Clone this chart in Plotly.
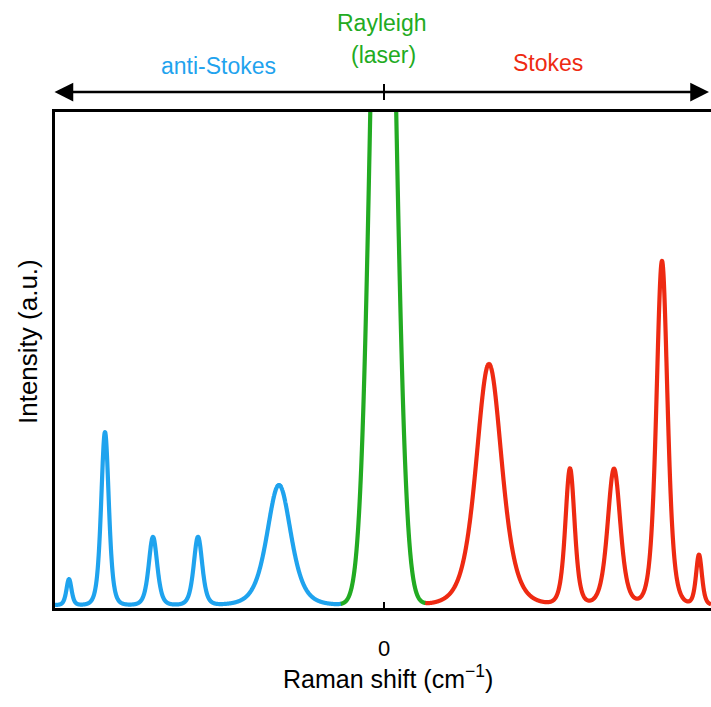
import numpy as np
import plotly.graph_objects as go

# ---- data ----
# anti-Stokes peaks (Raman shift cm-1, intensity a.u., FWHM cm-1)
anti_pos = [-1260, -1116, -924, -744, -420]
anti_h = [0.053, 0.353, 0.139, 0.139, 0.245]
anti_w = [24, 36, 40, 40, 112]
# Rayleigh (laser) line
ray_pos = [-3]
ray_h = [1.98]
ray_w = [105]
# Stokes peaks
stokes_pos = [420, 744, 920, 1112, 1260]
stokes_h = [0.492, 0.278, 0.278, 0.702, 0.102]
stokes_w = [120, 44, 60, 52, 28]

x_range = [-1316, 1308]
y_range = [-0.006, 1.006]
split_lo, split_hi = -172, 164  # colour changes blue->green->red
tick_vals = [0]
tick_text = ["0"]

BLUE = "#1fa3ee"
GREEN = "#22ab22"
RED = "#ee2a12"


def pearson7(x, c, h, w, m=3.0):
    return h / (1 + (2 ** (1 / m) - 1) * (2 * (x - c) / w) ** 2) ** m


def gauss(x, c, h, w):
    s = w / 2.3548
    return h * np.exp(-((x - c) ** 2) / (2 * s * s))


x = np.linspace(x_range[0], x_range[1], 2600)
y = np.zeros_like(x)
for c, h, w in zip(anti_pos + stokes_pos, anti_h + stokes_h, anti_w + stokes_w):
    y += pearson7(x, c, h, w)
for c, h, w in zip(ray_pos, ray_h, ray_w):
    y += gauss(x, c, h, w)

mb = x <= split_lo + 2
mg = (x >= split_lo - 2) & (x <= split_hi + 2)
mr = x >= split_hi - 2

fig = go.Figure()
for m, col in [(mb, BLUE), (mr, RED), (mg, GREEN)]:
    fig.add_trace(go.Scatter(x=x[m], y=y[m], mode="lines",
                             line=dict(color=col, width=4.2, shape="spline"),
                             showlegend=False, hoverinfo="skip"))

W, H = 711, 707
L, R, T, B = 55, 0, 112, 99
pw, ph = W - L - R, H - T - B


def px(xp):
    return (xp - L) / pw


def py(yp):
    return (H - B - yp) / ph


FONT = "Liberation Sans, Arial, sans-serif"

annotations = [
    dict(text="anti-Stokes", xref="paper", yref="paper", x=px(218), y=py(66),
         showarrow=False, font=dict(size=23, color=BLUE, family=FONT),
         xanchor="center", yanchor="middle"),
    dict(text="Rayleigh", xref="paper", yref="paper", x=px(382), y=py(23),
         showarrow=False, font=dict(size=23, color=GREEN, family=FONT),
         xanchor="center", yanchor="middle"),
    dict(text="(laser)", xref="paper", yref="paper", x=px(383), y=py(55),
         showarrow=False, font=dict(size=23, color=GREEN, family=FONT),
         xanchor="center", yanchor="middle"),
    dict(text="Stokes", xref="paper", yref="paper", x=px(548), y=py(63),
         showarrow=False, font=dict(size=23, color=RED, family=FONT),
         xanchor="center", yanchor="middle"),
    dict(text="Raman shift (cm<sup>−1</sup>)", xref="paper", yref="paper",
         x=px(388), y=py(677), showarrow=False,
         font=dict(size=25, color="black", family=FONT),
         xanchor="center", yanchor="middle"),
    dict(text="Intensity (a.u.)", xref="paper", yref="paper",
         x=px(28), y=py(342), showarrow=False, textangle=-90,
         font=dict(size=26, color="black", family=FONT),
         xanchor="center", yanchor="middle"),
    # double-headed arrow
    dict(text="", xref="paper", yref="paper", x=px(709), y=py(92),
         ax=-(709 - 53), ay=0, showarrow=True, arrowhead=2,
         arrowside="end+start", arrowwidth=2.5, arrowsize=1.5,
         arrowcolor="black", standoff=0, startstandoff=0),
]
# tick labels of the x axis
for tv, tt in zip(tick_vals, tick_text):
    annotations.append(dict(text=tt, xref="x", yref="paper", x=tv, y=py(648),
                            showarrow=False, xanchor="center", yanchor="middle",
                            font=dict(size=22, color="black", family=FONT)))

fig.update_layout(
    width=W, height=H,
    margin=dict(l=L, r=R, t=T, b=B, pad=0),
    paper_bgcolor="white", plot_bgcolor="white",
    font=dict(family=FONT, color="black"),
    xaxis=dict(range=x_range, showgrid=False, zeroline=False,
               showline=True, linecolor="black", linewidth=3, mirror=True,
               tickvals=tick_vals, ticktext=tick_text, ticks="inside",
               ticklen=6, tickwidth=2, tickcolor="black",
               showticklabels=False),
    yaxis=dict(range=y_range, showgrid=False, zeroline=False,
               showline=True, linecolor="black", linewidth=3,
               showticklabels=False, ticks=""),
    annotations=annotations,
    shapes=[
        dict(type="line", xref="x", yref="paper", x0=0, x1=0,
             y0=py(84), y1=py(100), line=dict(color="black", width=2)),
    ],
)

fig.write_html("out.html")
